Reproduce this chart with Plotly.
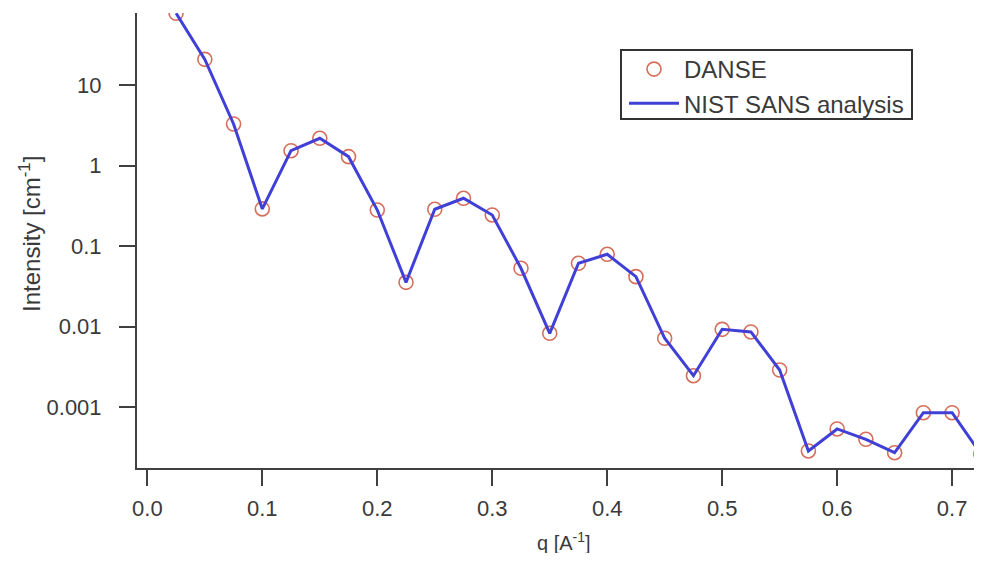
import plotly.graph_objects as go

# Data
q = [0.025, 0.05, 0.075, 0.1, 0.125, 0.15, 0.175, 0.2, 0.225, 0.25,
     0.275, 0.3, 0.325, 0.35, 0.375, 0.4, 0.425, 0.45, 0.475, 0.5,
     0.525, 0.55, 0.575, 0.6, 0.625, 0.65, 0.675, 0.7, 0.725]
danse = [77.6, 20.8, 3.28, 0.290, 1.53, 2.18, 1.29, 0.281, 0.0356, 0.287,
         0.393, 0.244, 0.0532, 0.0083, 0.0614, 0.0794, 0.0419, 0.0072, 0.00247, 0.0093,
         0.00863, 0.00291, 0.000288, 0.00054, 0.000402, 0.000274, 0.000859, 0.000859, 0.000264]
nist = [77.6, 20.8, 3.28, 0.290, 1.53, 2.18, 1.29, 0.281, 0.0356, 0.287,
        0.393, 0.244, 0.0532, 0.0083, 0.0614, 0.0794, 0.0419, 0.0072, 0.00247, 0.0093,
        0.00863, 0.00291, 0.000288, 0.00054, 0.000402, 0.000274, 0.000859, 0.000859, 0.000264]

x_ticks = [0.0, 0.1, 0.2, 0.3, 0.4, 0.5, 0.6, 0.7]
x_ticklabels = ["0.0", "0.1", "0.2", "0.3", "0.4", "0.5", "0.6", "0.7"]
y_ticks = [0.001, 0.01, 0.1, 1, 10]
y_ticklabels = ["0.001", "0.01", "0.1", "1", "10"]

FONT = "Liberation Sans, Arial, sans-serif"
TXT = "#3a3a3a"
AX = "#404040"

# page body has an 8px margin; figure placed so the plot area matches the reference
W, H = 974, 545
L, T, R, B = 129, 5, 0, 85
PW, PH = W - L - R, H - T - B


def px_x(sx):  # screen x -> paper fraction
    return (sx - 8 - L) / PW


def px_y(sy):  # screen y -> paper fraction
    return (H - B - (sy - 8)) / PH


fig = go.Figure()
fig.add_trace(go.Scatter(
    x=q, y=danse, mode="markers", name="DANSE", legendrank=1,
    marker=dict(symbol="circle-open", size=14, color="rgb(214,110,92)",
                line=dict(width=1.6, color="rgb(214,110,92)")),
))
fig.add_trace(go.Scatter(
    x=q, y=nist, mode="lines", name="NIST SANS analysis", legendrank=2,
    line=dict(color="rgb(64,64,214)", width=3),
))

fig.update_layout(
    width=W, height=H,
    margin=dict(l=L, r=R, t=T, b=B),
    paper_bgcolor="white", plot_bgcolor="white",
    font=dict(family=FONT, size=22, color=TXT),
    showlegend=True,
    legend=dict(
        x=px_x(624), y=px_y(47), xanchor="left", yanchor="top",
        bgcolor="rgba(0,0,0,0)", borderwidth=0,
        font=dict(family=FONT, size=24, color=TXT),
        itemwidth=50, tracegroupgap=0,
    ),
    shapes=[
        dict(type="rect", xref="paper", yref="paper",
             x0=px_x(621), x1=px_x(912), y0=px_y(119), y1=px_y(50),
             line=dict(color="#333333", width=2), fillcolor="white", layer="below"),
    ],
    xaxis=dict(
        range=[-0.009, 0.726], tickvals=x_ticks, ticktext=x_ticklabels,
        showgrid=False, zeroline=False, showline=True, linecolor=AX, linewidth=2,
        ticks="outside", ticklen=16, tickwidth=2, tickcolor=AX,
        tickfont=dict(family=FONT, size=22, color=TXT), ticklabelstandoff=4,
    ),
    yaxis=dict(
        type="log", range=[-3.752, 1.893], tickvals=y_ticks, ticktext=y_ticklabels,
        showgrid=False, zeroline=False, showline=True, linecolor=AX, linewidth=2,
        ticks="outside", ticklen=16, tickwidth=2, tickcolor=AX,
        tickfont=dict(family=FONT, size=22, color=TXT), ticklabelstandoff=13,
    ),
    annotations=[
        dict(text="q [A<sup>-1</sup>]", xref="paper", yref="paper",
             x=px_x(564), y=px_y(541), xanchor="center", yanchor="middle",
             showarrow=False, font=dict(family=FONT, size=20, color=TXT)),
        dict(text="Intensity [cm<sup>-1</sup>]", xref="paper", yref="paper",
             x=px_x(30), y=px_y(234), xanchor="center", yanchor="middle",
             textangle=-90, showarrow=False, font=dict(family=FONT, size=24, color=TXT)),
    ],
)

fig.write_html("out.html")
